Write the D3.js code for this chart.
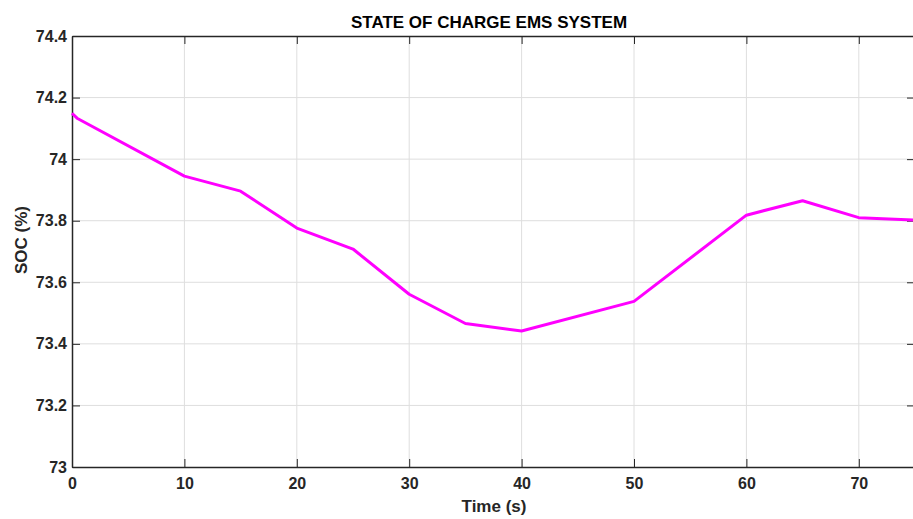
<!DOCTYPE html>
<html lang="en">
<head>
<meta charset="UTF-8">
<script src="https://d3js.org/d3.v7.min.js"></script>
<style>
  body { margin: 0; background: #fff; font-family: "Liberation Sans", Arial, sans-serif; overflow: hidden; }
  .grid line { stroke: #dedede; stroke-width: 1px; }
  .axis path, .axis line { stroke: #262626; }
  .axis text { font-size: 16px; font-weight: bold; fill: #262626; }
  .title { font-size: 17px; font-weight: bold; fill: #000; }
  .label { font-size: 17px; font-weight: bold; fill: #262626; }
</style>
</head>
<body>
<script>
  // time (s) and state of charge (%)
  const times = [0, 0.45, 10, 15, 20, 25, 30, 35, 40, 50, 60, 65, 70, 75];
  const soc = [74.149, 74.133, 73.945, 73.896, 73.776, 73.708, 73.561, 73.466, 73.442, 73.538, 73.818, 73.865, 73.81, 73.802];
  const xTicks = [0, 10, 20, 30, 40, 50, 60, 70];
  const yTicks = [73, 73.2, 73.4, 73.6, 73.8, 74, 74.2, 74.4];

  const W = 913, H = 519;
  const margin = {left: 72, right: -2, top: 36, bottom: 52};
  const width = W - margin.left - margin.right,
      height = H - margin.top - margin.bottom;

  const svg = d3.select('body').append('svg')
      .attr('width', W).attr('height', H);

  const g = svg.append('g')
      .attr('transform', `translate(${margin.left},${margin.top})`);

  const x = d3.scaleLinear().domain([0, 75]).range([0, width]);
  const y = d3.scaleLinear().domain([73, 74.4]).range([height, 0]);
  const fmt = d => String(+d.toFixed(1));

  // grid
  g.append('g').attr('class', 'grid')
      .selectAll('line.v').data(xTicks.slice(1)).join('line')
      .attr('x1', d => x(d)).attr('x2', d => x(d))
      .attr('y1', 0).attr('y2', height);
  g.append('g').attr('class', 'grid')
      .selectAll('line.h').data(yTicks.slice(1, -1)).join('line')
      .attr('x1', 0).attr('x2', width)
      .attr('y1', d => y(d)).attr('y2', d => y(d));

  // box with inward ticks
  g.append('g').attr('class', 'axis')
      .attr('transform', `translate(0,${height})`)
      .call(d3.axisBottom(x).tickValues(xTicks).tickFormat(fmt).tickSizeInner(-8).tickSizeOuter(0).tickPadding(11))
      .call(a => a.select('.domain').attr('stroke-width', 1.5));
  g.append('g').attr('class', 'axis')
      .call(d3.axisLeft(y).tickValues(yTicks).tickFormat(fmt).tickSizeInner(-8).tickSizeOuter(0).tickPadding(5))
      .call(a => a.select('.domain').attr('stroke-width', 1.5));
  g.append('g').attr('class', 'axis')
      .call(d3.axisTop(x).tickValues(xTicks).tickFormat('').tickSizeInner(-8).tickSizeOuter(0))
      .call(a => a.select('.domain').attr('stroke-width', 1.5));
  g.append('g').attr('class', 'axis')
      .attr('transform', `translate(${width},0)`)
      .call(d3.axisRight(y).tickValues(yTicks).tickFormat('').tickSizeInner(-8).tickSizeOuter(0))
      .call(a => a.select('.domain').attr('stroke-width', 1.5));

  // line
  const line = d3.line().x((d, i) => x(times[i])).y(d => y(d));
  g.append('path')
      .datum(soc)
      .attr('fill', 'none')
      .attr('stroke', '#ff00ff')
      .attr('stroke-width', 3)
      .attr('stroke-linejoin', 'round')
      .attr('d', line);

  // text
  svg.append('text').attr('class', 'title')
      .attr('x', 489).attr('y', 28).attr('text-anchor', 'middle')
      .text('STATE OF CHARGE EMS SYSTEM');
  svg.append('text').attr('class', 'label')
      .attr('x', 494).attr('y', 512).attr('text-anchor', 'middle')
      .text('Time (s)');
  svg.append('text').attr('class', 'label')
      .attr('transform', 'translate(27,240) rotate(-90)')
      .attr('text-anchor', 'middle')
      .text('SOC (%)');
</script>
</body>
</html>
